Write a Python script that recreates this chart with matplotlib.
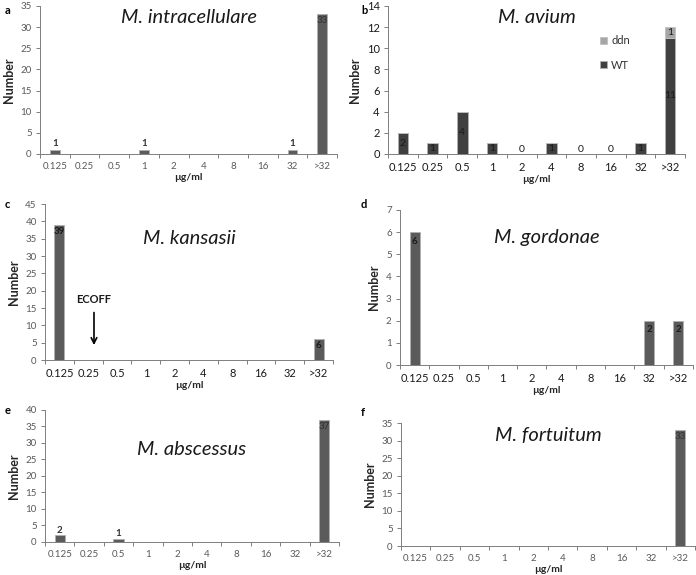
import numpy as np
import matplotlib.pyplot as plt

plt.rcParams['font.family'] = ['Lato', 'DejaVu Sans']

mic = ["0.125", "0.25", "0.5", "1", "2", "4", "8", "16", "32", ">32"]

intracellulare = [1, 0, 0, 1, 0, 0, 0, 0, 1, 33]
avium_wt = [2, 1, 4, 1, 0, 1, 0, 0, 1, 11]
avium_ddn = [0, 0, 0, 0, 0, 0, 0, 0, 0, 1]
kansasii = [39, 0, 0, 0, 0, 0, 0, 0, 0, 6]
gordonae = [6, 0, 0, 0, 0, 0, 0, 0, 2, 2]
abscessus = [2, 0, 1, 0, 0, 0, 0, 0, 0, 37]
fortuitum = [0, 0, 0, 0, 0, 0, 0, 0, 0, 33]

BAR = "#5b5b5b"
GREY = "#595959"
DARK = "#1a1a1a"

fig = plt.figure(figsize=(6.96, 5.75), dpi=100)


def base_axes(rect, ymax, ystep, xcol=GREY, xsize=7, ycol=GREY, ysize=7):
    ax = fig.add_axes(rect)
    x = np.arange(len(mic))
    ax.set_xlim(-0.5, 9.5)
    ax.set_ylim(0, ymax)
    ax.set_yticks(np.arange(0, ymax + 0.01, ystep))
    ax.set_xticks(x)
    ax.set_xticklabels(mic)
    ax.set_xticks(np.arange(-0.5, 10, 1), minor=True)
    ax.tick_params(axis='x', which='major', length=0, labelsize=xsize, labelcolor=xcol, pad=6)
    ax.tick_params(axis='x', which='minor', length=3, color='#7f7f7f', width=0.7)
    ax.tick_params(axis='y', length=3, labelsize=ysize, labelcolor=ycol, color='#7f7f7f', width=0.7, pad=3)
    for s in ['top', 'right']:
        ax.spines[s].set_visible(False)
    for s in ['left', 'bottom']:
        ax.spines[s].set_color('#7f7f7f')
        ax.spines[s].set_linewidth(0.7)
    ax.set_ylabel("Number", fontsize=9, fontweight='bold', color='#262626', labelpad=4)
    ax.set_xlabel("µg/ml", fontsize=7.5, fontweight='bold', color='#262626', labelpad=1)
    return ax, x


# a
ax, x = base_axes([0.0575, 0.7322, 0.4267, 0.2574], 35, 5)
ax.bar(x, intracellulare, width=0.32, color=BAR, edgecolor='#b0b0b0', linewidth=0.6)
for i, v in enumerate(intracellulare):
    if v == 0:
        continue
    if v > 5:
        ax.text(i, v - 0.4, str(v), ha='center', va='top', fontsize=7, color='#333333')
    else:
        ax.text(i, v + 0.3, str(v), ha='center', va='bottom', fontsize=7, fontweight='bold', color='#333333')
ax.text(0.5, 0.92, "M. intracellulare", transform=ax.transAxes, ha='center', va='center',
        fontsize=14.5, style='italic', color=DARK)

# b
ax, x = base_axes([0.5575, 0.7322, 0.4267, 0.2574], 14, 2, xcol=DARK, xsize=8, ycol=DARK, ysize=8)
ax.bar(x, avium_wt, width=0.36, color='#404040', edgecolor='#b0b0b0', linewidth=0.6, label='WT')
ax.bar(x, avium_ddn, width=0.36, bottom=avium_wt, color='#a6a6a6', edgecolor='#c0c0c0',
       linewidth=0.6, label='ddn')
for i, v in enumerate(avium_wt):
    ax.text(i, v / 2 if v > 0 else 0.02, str(v), ha='center', va='center' if v > 0 else 'bottom',
            fontsize=7.5, color=DARK)
for i, v in enumerate(avium_ddn):
    if v > 0:
        ax.text(i, avium_wt[i] + v / 2, str(v), ha='center', va='center', fontsize=7.5, color=DARK)
h, l = ax.get_legend_handles_labels()
ax.legend(h[::-1], l[::-1], loc='upper left', bbox_to_anchor=(0.68, 0.87), frameon=False,
          fontsize=8, handlelength=0.6, handleheight=0.6, labelspacing=1.2, handletextpad=0.4,
          labelcolor='#333333')
ax.text(0.5, 0.92, "M. avium", transform=ax.transAxes, ha='center', va='center',
        fontsize=14.5, style='italic', color=DARK)

# c
ax, x = base_axes([0.0647, 0.3739, 0.4138, 0.2713], 45, 5, xcol=DARK, xsize=8)
ax.bar(x, kansasii, width=0.35, color=BAR, edgecolor='#b0b0b0', linewidth=0.6)
for i, v in enumerate(kansasii):
    if v > 0:
        ax.text(i, v - 0.6, str(v), ha='center', va='top', fontsize=7, fontweight='bold', color=DARK)
ax.annotate("", xy=(1.2, 3.5), xytext=(1.2, 14.5),
            arrowprops=dict(arrowstyle='->', color='black', lw=1.2))
ax.text(1.2, 16, "ECOFF", ha='center', va='bottom', fontsize=8, fontweight='bold', color=DARK)
ax.text(0.5, 0.78, "M. kansasii", transform=ax.transAxes, ha='center', va='center',
        fontsize=14.5, style='italic', color=DARK)

# d
ax, x = base_axes([0.5747, 0.3652, 0.421, 0.2696], 7, 1, xcol=DARK, xsize=8)
ax.bar(x, gordonae, width=0.35, color=BAR, edgecolor='#b0b0b0', linewidth=0.6)
for i, v in enumerate(gordonae):
    if v > 0:
        ax.text(i, v - 0.2, str(v), ha='center', va='top', fontsize=7, fontweight='bold', color=DARK)
ax.text(0.5, 0.82, "M. gordonae", transform=ax.transAxes, ha='center', va='center',
        fontsize=14.5, style='italic', color=DARK)

# e
ax, x = base_axes([0.0647, 0.0574, 0.4224, 0.2296], 40, 5)
ax.bar(x, abscessus, width=0.35, color=BAR, edgecolor='#b0b0b0', linewidth=0.6)
for i, v in enumerate(abscessus):
    if v == 0:
        continue
    if v > 5:
        ax.text(i, v - 0.5, str(v), ha='center', va='top', fontsize=7, color='#333333')
    else:
        ax.text(i, v + 0.2, str(v), ha='center', va='bottom', fontsize=7, fontweight='bold', color='#333333')
ax.text(0.5, 0.7, "M. abscessus", transform=ax.transAxes, ha='center', va='center',
        fontsize=14.5, style='italic', color=DARK)

# f
ax, x = base_axes([0.5761, 0.0504, 0.4224, 0.2139], 35, 5)
ax.bar(x, fortuitum, width=0.35, color=BAR, edgecolor='#b0b0b0', linewidth=0.6)
for i, v in enumerate(fortuitum):
    if v > 0:
        ax.text(i, v - 0.5, str(v), ha='center', va='top', fontsize=7, color='#333333')
ax.text(0.5, 0.9, "M. fortuitum", transform=ax.transAxes, ha='center', va='center',
        fontsize=14.5, style='italic', color=DARK)

# panel letters
for letter, px, py in [("a", 5, 10), ("b", 361, 10), ("c", 5, 205), ("d", 361, 205),
                       ("e", 5, 411), ("f", 361, 413)]:
    fig.text(px / 696, 1 - py / 575, letter, fontsize=8, fontweight='bold', ha='left', va='center')

fig.savefig("out.png", dpi=100)
